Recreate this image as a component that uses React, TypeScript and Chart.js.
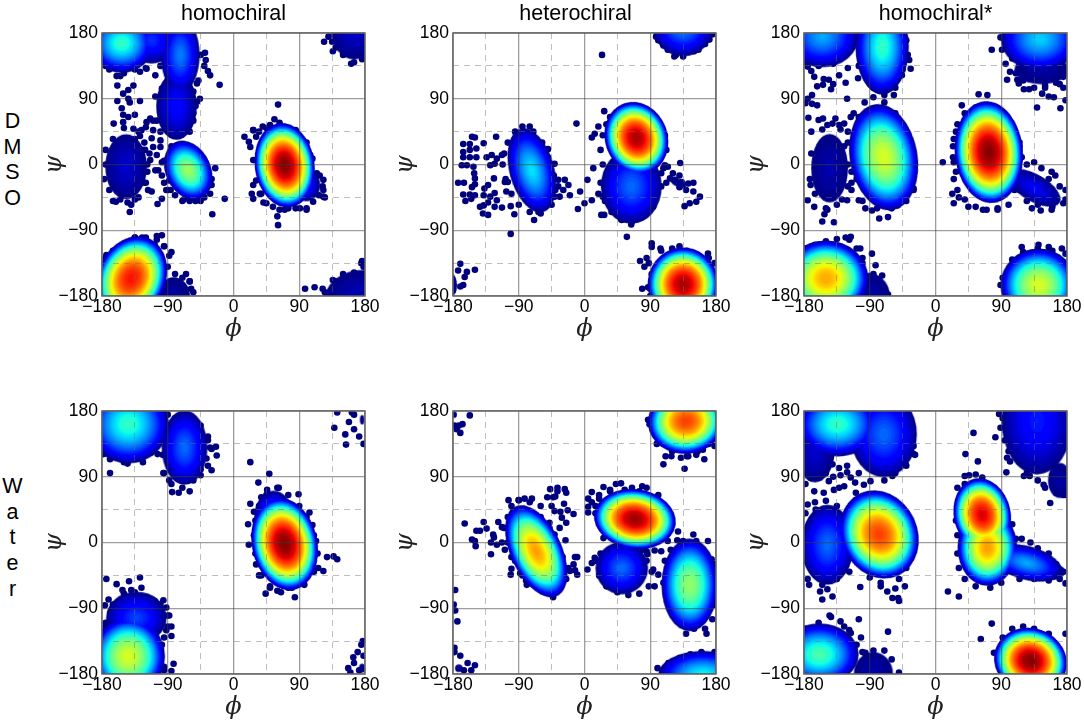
import { useEffect, useRef } from 'react';
import { Chart, registerables } from 'chart.js';

Chart.register(...registerables);

type Pair = [number, number];
// phi, psi, phi spread, psi spread, tilt, peak density (0-1)
type Cluster = [number, number, number, number, number, number];

// trailing spaces: the middle title sits a little left of its panel in the original
const panelTitles = ['homochiral', 'heterochiral   ', 'homochiral*', '', '', ''];
const rowLabels = ['DMSO', 'Water'];

const homoDmsoClusters: Cluster[] = [
  [-153, 166, 46, 42, 0, 0.42],
  [-112, 170, 34, 34, 0, 0.18],
  [-73, 150, 28, 55, 0, 0.26],
  [-78, 80, 30, 50, 0, 0.14],
  [-147, -3, 32, 50, 0, 0.08],
  [-62, -8, 32, 44, -25, 0.55],
  [70, -1, 42, 60, -8, 1],
  [100, -28, 20, 24, 0, 0.16],
  [-140, -156, 48, 62, 25, 0.9],
  [-82, -180, 28, 32, 0, 0.04],
  [165, 185, 36, 46, 0, 0.08],
  [178, -188, 62, 50, 0, 0.07],
];
const homoDmsoDots: Pair[] = [
  [124, 168], [136, 155], [161, 138], [176, 144], [-19, 109], [61, 82], [56, 62], [15, 38], [21, 31], [27, 47],
  [27, -28], [25, -40], [38, -40], [27, -47], [41, -52], [60, -71], [61, -83], [-12, -47], [-29, -68], [-104, -54],
  [-98, -47], [-142, -65], [-161, -51], [-85, -120], [-105, -98], [-98, -97], [-174, -124], [98, -170], [111, -168], [122, -170],
  [136, -158], [176, -132], [-170, 130], [-160, 121], [-155, 121], [-159, 108], [-137, 108], [-144, 102], [-151, 97], [-159, 87],
  [-144, 90], [-142, 85], [-128, 87], [-153, 77], [-151, 68], [-144, 65], [-135, 68], [-164, 56], [-151, 58], [-137, 49],
  [-126, 47], [-128, 39], [-114, 63], [-119, 58], [-110, 60], [-107, 93], [-98, 104], [-120, 51], [-110, 47], [-100, 33],
  [-112, 36], [-110, 24], [-100, 24], [-121, 20], [-105, 13], [-114, 6], [-98, 3], [-107, -8], [-103, -8], [-117, -35],
  [-112, -37], [-92, -35], [-86, -35], [-128, 127], [-119, 131], [-107, 122], [-39, 153], [-38, 143], [-35, 128], [-32, 122],
  [-50, 111], [-46, 90], [-50, 86], [-55, 70], [-130, 45], [-122, 30], [-115, 15], [-118, -10], [-120, -25], [-165, -50],
  [-140, -55], [-135, -48], [45, 50], [35, 45], [85, 47], [100, 30], [108, 8], [118, -15], [122, -30], [117, -42],
  [125, -45], [100, -60], [85, -60], [70, -62], [-68, -48], [-52, -50], [-40, -45], [-30, -20], [-88, -22], [-25, -5],
  [-135, -100], [-125, -100], [-108, -110], [-95, -112], [-60, -160], [-58, -170], [-70, -155], [-150, -115], [-165, -118],
];
const homoDmsoRim: Pair[] = [
  [27, 47], [40, 52], [50, 54], [63, 57], [75, 49], [86, 45], [98, 15], [105, 13], [114, -12], [123, -21],
  [123, -35], [123, -44], [109, -51], [100, -62], [91, -60], [75, -60], [63, -62], [54, -58], [45, -53], [36, -40],
  [31, -22], [27, 6], [23, 24], [31, 38], [-95, -25], [-90, -35], [-80, -42], [-70, -50], [-60, -50], [-45, -50],
  [-32, -40], [-30, -28], [-35, -10], [-45, 5], [-55, 15], [-70, 28], [-85, 25], [-95, 5], [-98, -15], [-175, 20],
  [-175, 0], [-177, -20], [-170, -35], [-155, -48], [-145, -52], [-130, -45], [-122, -25], [-118, 0], [-125, 20], [-135, 35],
  [-150, 50], [-165, 35], [-175, 135], [-150, 125], [-135, 130], [-120, 132], [-100, 135], [-45, 150], [-40, 135], [-48, 115],
  [-55, 100], [-52, 80], [-55, 60], [-60, 45], [-95, 90], [-100, 75], [-105, 60], [-100, 45], [-175, -128], [-160, -120],
  [-150, -110], [-135, -100], [-120, -100], [-105, -103], [-95, -112], [-88, -125], [-90, -140], [-80, -150], [-65, -150], [-60, -160],
  [-55, -175], [130, 175], [140, 160], [150, 150], [165, 140], [178, 150], [135, 168], [125, -175], [140, -160], [150, -150],
  [165, -148], [175, -135], [178, -140],
];

const heteroDmsoClusters: Cluster[] = [
  [-72, -8, 32, 62, -15, 0.36],
  [64, -30, 44, 54, 0, 0.24],
  [71, 36, 44, 52, -20, 0.97],
  [135, 190, 44, 44, 0, 0.28],
  [135, -164, 50, 52, -5, 0.97],
  [-182, -165, 12, 25, 0, 0.02],
  [128, -25, 20, 9, 30, 0.02],
];
const heteroDmsoDots: Pair[] = [
  [-170, -136], [-173, -145], [-164, -154], [-166, -165], [-150, -144], [-161, -147], [-170, -167], [-180, -172], [-154, 38], [-150, 37],
  [-166, 28], [-157, 28], [-138, 29], [-121, 38], [-166, 17], [-157, 20], [-148, 22], [-166, 10], [-157, 10], [-148, 10],
  [-134, 10], [-168, -1], [-161, -1], [-152, -3], [-129, -1], [-123, 1], [-113, 13], [-120, 8], [-127, 13], [-151, -12],
  [-150, -19], [-124, -19], [-173, -25], [-165, -25], [-150, -27], [-154, -31], [-137, -33], [-132, -28], [-109, -24], [-105, -24],
  [-166, -41], [-157, -41], [-150, -42], [-138, -42], [-129, -44], [-123, -39], [-107, -37], [-163, -50], [-155, -47], [-143, -58],
  [-138, -56], [-132, -52], [-120, -49], [-113, -59], [-123, -58], [-139, -67], [-132, -69], [-101, -57], [-96, -68], [-101, -95],
  [-69, -76], [-63, -65], [-41, 1], [-50, 21], [-36, -21], [-27, -21], [-22, -28], [-36, -30], [-29, -35], [-20, -42],
  [-41, -44], [-34, -44], [-6, -37], [4, -21], [12, -5], [0, -53], [-9, -61], [-11, 56], [24, 150], [58, -99],
  [27, 73], [10, 37], [14, 42], [19, 52], [10, -49], [19, -40], [25, -44], [27, -69], [23, -69], [37, -65],
  [51, -76], [64, -82], [80, -71], [87, -59], [94, -58], [114, -3], [110, -1], [121, -12], [131, 2], [130, -15],
  [117, -19], [124, -21], [133, -24], [142, -26], [149, -25], [130, -31], [139, -35], [149, -37], [158, -44], [153, -51],
  [144, -53], [137, -57], [112, -25], [105, -12], [101, 170], [108, 163], [114, 157], [123, 148], [156, 157], [171, 171],
  [92, -113], [104, -115], [92, -108], [76, -132], [130, -112], [158, -126], [169, -122], [79, -170], [87, -168], [82, -140], [85, -128],
];
const heteroDmsoRim: Pair[] = [
  [-85, 52], [-95, 45], [-105, 30], [-110, 15], [-112, 0], [-108, -20], [-100, -40], [-90, -55], [-75, -65], [-60, -67],
  [-45, -55], [-40, -35], [-42, -15], [-50, 10], [-58, 30], [-70, 45], [-75, 52], [30, 55], [25, 40], [22, 20],
  [25, 0], [22, -25], [28, -50], [40, -65], [50, -75], [65, -78], [80, -70], [95, -50], [105, -30], [108, -5],
  [112, 20], [110, 40], [100, 55], [90, 68], [75, 75], [60, 77], [45, 70], [35, 65], [88, -135], [92, -150],
  [90, -170], [90, -180], [105, -118], [120, -115], [140, -118], [155, -125], [170, -128], [178, -135], [98, 175], [110, 165],
  [125, 150], [135, 148], [150, 155], [165, 165], [175, 178],
];

const homoStarDmsoClusters: Cluster[] = [
  [-155, 175, 52, 44, 0, 0.3],
  [-73, 161, 38, 68, 0, 0.42],
  [-71, 10, 48, 76, -10, 0.62],
  [-145, -5, 30, 56, 0, 0.05],
  [73, 17, 48, 72, -5, 1],
  [135, -32, 44, 20, 30, 0.12],
  [143, 172, 56, 46, 0, 0.34],
  [145, 130, 46, 25, 0, 0.04],
  [-150, -156, 60, 54, 0, 0.74],
  [-88, -175, 30, 35, -35, 0.04],
  [141, -165, 54, 52, 0, 0.62],
];
const homoStarDmsoDots: Pair[] = [
  [77, 157], [89, 174], [94, 172], [102, 170], [91, 157], [96, 138], [102, 127], [98, 116], [112, 116], [114, 111],
  [121, 103], [128, 103], [146, 97], [155, 93], [162, 92], [175, 105], [178, 88], [171, 77], [139, 78], [59, 96],
  [71, 95], [36, 81], [10, 3], [25, 3], [25, -53], [23, -40], [132, -60], [144, -63], [159, -62], [175, -53],
  [159, -10], [164, -15], [-175, 134], [-166, 120], [-153, 117], [-146, 116], [-143, 103], [-132, 122], [-123, 112], [-106, 118],
  [-162, 107], [-154, 109], [-121, 90], [-175, 90], [-169, 95], [-178, 84], [-169, 83], [-162, 81], [-174, 64], [-154, 63],
  [-160, 61], [-137, 63], [-148, 54], [-141, 56], [-125, 56], [-132, 54], [-116, 65], [-112, 70], [-77, -74], [-65, -72],
  [-155, -78], [-139, -79], [-152, -68], [-175, -49], [-166, -58], [-96, -60], [-87, -63], [-64, -58], [-52, -56], [-105, -49],
  [-121, -49], [-171, -28], [-32, -8], [-30, -33], [-43, 157], [-36, 143], [-34, 131], [-46, 122], [-57, 95], [-82, -138],
  [-87, -122], [-103, -115], [-116, -99], [-123, -100], [-73, -152], [-178, -115], [89, -165], [118, -113], [141, -110], [155, -113], [173, -115],
  [-140, 110], [-170, 128], [-130, 48], [-120, 30], [-112, 18], [-110, 0], [-108, -20], [-115, -35], [-128, -48], [-148, -62],
  [40, 60], [28, 45], [24, 25], [25, -20], [32, -45], [45, -58], [65, -62], [85, -60], [103, 55], [115, 25],
  [110, 125], [120, 115], [135, 105], [150, 108], [165, 112], [175, 120], [105, 145],
];
const homoStarDmsoRim: Pair[] = [
  [30, 55], [40, 70], [55, 78], [70, 75], [85, 72], [95, 60], [105, 45], [115, 30], [118, 10], [112, -10],
  [108, -35], [100, -55], [85, -62], [70, -62], [55, -58], [40, -48], [30, -35], [28, -10], [24, 10], [25, 35],
  [-97, 85], [-85, 92], [-70, 85], [-55, 70], [-50, 55], [-45, 30], [-40, 10], [-32, -10], [-30, -35], [-40, -50],
  [-60, -60], [-80, -60], [-100, -50], [-115, -25], [-120, 0], [-125, 25], [-120, 45], [-105, 65], [-95, 125], [-85, 105],
  [-70, 95], [-55, 105], [-45, 130], [-38, 150], [-40, 170], [-178, 140], [-160, 135], [-140, 138], [-120, 132], [-105, 135],
  [-170, 45], [-170, 15], [-172, -20], [-165, -40], [-150, -60], [-135, -55], [-120, -30], [-115, -10], [-130, 20], [-145, 35],
  [-155, 48], [125, 0], [135, 3], [145, -5], [155, -20], [170, -30], [178, -35], [178, -48], [160, -58], [140, -55],
  [125, -50], [115, -35], [100, 170], [105, 150], [115, 135], [130, 120], [150, 105], [170, 110], [178, 125], [-100, -135],
  [-85, -150], [-75, -165], [-65, -178], [-178, -125], [-165, -110], [-150, -105], [-135, -102], [-118, -103], [-108, -115], [-100, -128],
  [92, -155], [105, -130], [120, -120], [140, -115], [160, -118], [178, -122],
];

const homoWaterClusters: Cluster[] = [
  [-144, 162, 58, 56, 0, 0.42],
  [-67, 130, 33, 54, 0, 0.24],
  [70, -2, 46, 66, -12, 1],
  [55, 35, 28, 38, 0, 0.24],
  [-144, -156, 52, 56, 0, 0.62],
  [-133, -103, 44, 38, 0, 0.2],
  [176, 168, 14, 30, 0, 0.01],
  [176, -172, 20, 28, 0, 0.01],
];
const homoWaterDots: Pair[] = [
  [142, 178], [138, 157], [154, 134], [153, 148], [23, 110], [49, 94], [34, 82], [-84, 69], [-169, 95], [-178, 121],
  [-169, 114], [-145, 108], [-124, 110], [-113, 123], [-104, 121], [-101, 143], [-24, 131], [-23, 119], [-30, 99], [21, -3],
  [20, 25], [23, 53], [104, 41], [89, 66], [108, 24], [113, 2], [128, -20], [137, -19], [142, -23], [123, -39],
  [116, -35], [97, -58], [84, -75], [44, -70], [31, -30], [-174, -50], [-160, -57], [-143, -53], [-128, -48], [-126, -62],
  [-171, -78], [-176, -86], [-96, -79], [-108, -80], [-92, -89], [-85, -115], [-82, -166], [-85, -176], [164, -157], [177, -135],
  [157, -172], [-88, -100], [-92, -120], [-85, -128], [-98, -140], [-95, -170], [30, 18], [28, 42], [38, 62], [46, 72],
  [62, 75], [30, 5], [35, -45], [50, -62], [60, -66], [75, -62], [-96, 95], [-88, 85], [-75, 68], [-60, 70],
  [-45, 92], [-35, 105], [-35, 140], [-30, 128], [-95, 152], [-152, -65], [-140, -65], [-168, -95], [-175, -110],
];
const homoWaterRim: Pair[] = [
  [30, 30], [35, 50], [45, 65], [60, 75], [75, 65], [90, 50], [100, 35], [110, 10], [115, -15], [110, -40],
  [95, -55], [80, -62], [65, -68], [50, -60], [38, -45], [30, -15], [28, 10], [-95, 140], [-97, 120], [-95, 95],
  [-85, 80], [-70, 75], [-55, 85], [-45, 100], [-37, 115], [-32, 130], [-35, 145], [-45, 160], [-60, 170], [-80, 170],
  [-92, 155], [-178, 130], [-165, 118], [-150, 110], [-130, 115], [-115, 128], [-95, 160], [-90, 175], [-98, 150], [-150, -70],
  [-135, -68], [-120, -75], [-100, -85], [-90, -100], [-90, -115], [-95, -130], [-105, -140], [-115, -155], [-105, -168], [-95, -175],
  [-165, -85], [-175, -115], [-178, -130], [162, 178], [158, 165], [165, 155], [172, 145], [178, 135], [165, 175], [170, -150],
  [175, -140], [165, -165], [160, -178], [172, -175], [178, -155],
];

const heteroWaterClusters: Cluster[] = [
  [-66, -12, 36, 70, -25, 0.75],
  [69, 32, 58, 42, 8, 0.98],
  [51, -35, 38, 38, 0, 0.24],
  [144, -58, 40, 66, 0, 0.54],
  [139, 166, 54, 46, -5, 0.85],
  [162, -181, 64, 34, 0, 0.38],
  [-178, 175, 15, 20, 0, 0.01],
  [-172, -172, 24, 24, 0, 0.01],
];
const heteroWaterDots: Pair[] = [
  [-157, 174], [-167, 162], [-170, 150], [-177, -65], [-179, -85], [-177, -93], [-174, -108], [-178, -144], [-150, -168], [-164, 26],
  [-138, 28], [-134, 19], [-148, 16], [-143, 16], [-118, 28], [-113, 21], [-125, 11], [-124, 7], [-154, 4], [-150, 2],
  [-149, -5], [-128, 0], [-120, -3], [-113, 0], [-128, -16], [-109, -10], [-104, 58], [-101, -44], [-100, -36], [-79, -58],
  [-47, 73], [-37, 75], [-37, 70], [-27, 73], [-25, 68], [-51, 62], [-43, 62], [-40, 63], [-28, 53], [-45, 50],
  [-41, 43], [-33, 42], [-23, 44], [-15, 39], [-31, 34], [-25, 27], [-48, 27], [-34, 20], [-26, 3], [-41, 11],
  [-13, -20], [-10, -20], [-15, -30], [-13, -38], [-10, -44], [-20, -39], [-43, -75], [-37, -62], [4, -37], [10, -28],
  [14, -21], [5, 41], [5, 49], [5, 60], [10, 69], [26, 76], [43, 80], [50, 81], [79, 77], [85, 75],
  [101, 65], [26, 6], [105, -12], [96, -11], [86, -16], [85, -12], [114, 2], [128, 15], [127, 3], [135, 2],
  [149, 11], [153, 2], [154, -7], [169, 2], [167, -21], [174, -23], [94, -37], [101, -44], [96, -60], [139, -125],
  [167, -125], [87, 168], [89, 162], [99, 135], [108, 107], [111, 118], [119, 118], [137, 101], [132, 116], [142, 118],
  [153, 120], [164, 114], [162, 127], [178, 132], [174, 148], [-90, 58], [-82, 60], [-72, 60], [-60, 50], [-98, 42],
  [-103, 20], [-100, -20], [-88, -42], [-80, -52], [-40, -50], [-35, -40], [-62, -62], [20, 60], [15, 50], [35, 72], [65, 75],
];
const heteroWaterRim: Pair[] = [
  [-100, 50], [-90, 58], [-75, 55], [-60, 35], [-48, 20], [-40, 0], [-30, -20], [-22, -35], [-25, -50], [-40, -62],
  [-55, -62], [-70, -58], [-85, -45], [-95, -25], [-105, 0], [-110, 20], [-105, 35], [10, 55], [15, 40], [25, 25],
  [35, 10], [50, 0], [70, -5], [90, 0], [105, 5], [115, 15], [118, 30], [108, 50], [95, 60], [75, 70],
  [55, 72], [35, 70], [20, 65], [15, -25], [22, -15], [20, -45], [30, -60], [45, -68], [60, -72], [75, -70],
  [88, -60], [92, -40], [85, -25], [80, -10], [110, -25], [118, -10], [135, 0], [150, -5], [165, -15], [178, -30],
  [178, -85], [175, -105], [165, -118], [150, -118], [135, -105], [125, -90], [115, -75], [108, -55], [93, 165], [98, 148],
  [108, 135], [120, 125], [140, 118], [155, 125], [170, 135], [100, -172], [115, -165], [130, -158], [145, -153], [160, -150],
  [178, -150], [-178, 160], [-172, 160], [-175, 155], [-178, -150], [-170, -155], [-160, -165], [-155, -175], [-165, -175],
];

const homoStarWaterClusters: Cluster[] = [
  [-134, 162, 58, 46, 0, 0.42],
  [-165, 125, 30, 48, 0, 0.08],
  [-71, 148, 48, 62, 0, 0.24],
  [-77, 11, 54, 64, -25, 0.85],
  [-148, -3, 38, 58, 0, 0.24],
  [64, 38, 40, 52, -12, 0.93],
  [71, -7, 42, 54, 0, 0.75],
  [125, -28, 52, 24, 15, 0.3],
  [155, -40, 27, 14, 0, 0.05],
  [139, 166, 52, 78, 0, 0.16],
  [170, 85, 20, 30, 0, 0.04],
  [-159, -153, 56, 44, 0, 0.45],
  [-85, -180, 32, 36, 0, 0.05],
  [130, -162, 52, 46, 20, 1],
];
const homoStarWaterDots: Pair[] = [
  [52, 150], [41, 121], [58, 111], [64, 89], [40, 91], [46, 92], [55, 93], [87, 176], [89, 157], [82, 144],
  [98, 116], [102, 111], [97, 96], [121, 91], [129, 91], [148, 79], [157, 54], [166, 68], [175, 65], [17, -67],
  [32, -74], [77, -111], [62, -132], [178, -56], [-103, -61], [-59, -76], [-51, -76], [-50, -80], [-66, -67], [-55, -63],
  [-42, -60], [-75, -60], [-155, -78], [-158, -67], [-141, -74], [-148, -64], [-173, -58], [-105, -105], [-102, -130], [-65, -122],
  [-143, -102], [-125, -115], [-116, -124], [-96, -151], [80, -151], [-132, 102], [-121, 105], [-141, 107], [-105, 95], [-132, 75],
  [-125, 77], [-109, 68], [-98, 79], [-116, 89], [-89, 84], [-166, 70], [-153, 68], [-146, 84], [-159, 89], [-139, 72],
  [-175, 52], [-164, 45], [-102, 121], [-128, 123], [-144, 116], [-121, 96], [-30, 121], [-34, 139], [-36, 157], [-41, 107],
  [-59, 91], [-140, 90], [-130, 92], [-110, 82], [-150, 95], [-170, 88], [-178, 80],
];
const homoStarWaterRim: Pair[] = [
  [30, 75], [40, 80], [55, 82], [75, 75], [88, 60], [95, 40], [105, 25], [110, 5], [98, -10], [105, -40],
  [90, -55], [75, -62], [55, -60], [40, -50], [32, -35], [30, -15], [30, 10], [28, 30], [32, 50], [118, 5],
  [130, 0], [140, -8], [155, -15], [165, -30], [175, -40], [170, -50], [155, -52], [135, -50], [115, -50], [-55, 50],
  [-48, 25], [-42, 0], [-38, -15], [-40, -35], [-50, -50], [-75, -55], [-90, -48], [-100, -30], [-120, -15], [-112, 45],
  [-80, 65], [-65, 62], [-178, 40], [-175, 10], [-178, -25], [-175, -50], [-155, -58], [-135, -50], [-118, -40], [-135, 50],
  [-150, 57], [-165, 55], [-45, 170], [-38, 150], [-30, 132], [-28, 120], [-40, 105], [-55, 95], [-70, 85], [92, 170],
  [95, 140], [100, 125], [115, 110], [125, 95], [140, 85], [150, 75], [165, 68], [178, 65], [178, 85], [-178, -118],
  [-160, -110], [-145, -100], [-130, -108], [-118, -120], [-108, -140], [-100, -150], [-95, -155], [-85, -148], [-70, -148], [-60, -160],
  [-50, -178], [88, -150], [92, -130], [105, -118], [120, -115], [135, -118], [155, -125], [178, -125],
];

const clustersByPanel = [
  homoDmsoClusters, heteroDmsoClusters, homoStarDmsoClusters,
  homoWaterClusters, heteroWaterClusters, homoStarWaterClusters,
];
const dotsByPanel = [
  [...homoDmsoDots, ...homoDmsoRim], [...heteroDmsoDots, ...heteroDmsoRim], [...homoStarDmsoDots, ...homoStarDmsoRim],
  [...homoWaterDots, ...homoWaterRim], [...heteroWaterDots, ...heteroWaterRim], [...homoStarWaterDots, ...homoStarWaterRim],
];

const panelLefts = [102, 453, 804, 102, 453, 804];
const panelTops = [33, 33, 33, 411, 411, 411];
const PANEL = 263;
const GUTTER = 62;
const BOTTOM_GUTTER = 50;
const LEVELS = 60;
const PX_PER_DEG = (PANEL / 360) * 0.97;

function jet(v: number): string {
  const ramp = (pts: number[][]) => {
    for (let i = 1; i < pts.length; i++) {
      if (v <= pts[i][0]) {
        const f = (v - pts[i - 1][0]) / (pts[i][0] - pts[i - 1][0]);
        return pts[i - 1][1] + f * (pts[i][1] - pts[i - 1][1]);
      }
    }
    return pts[pts.length - 1][1];
  };
  const r = ramp([[0, 0], [0.35, 0], [0.66, 1], [0.89, 1], [1, 0.5]]);
  const g = ramp([[0, 0], [0.125, 0], [0.375, 1], [0.64, 1], [0.91, 0], [1, 0]]);
  const b = ramp([[0, 0.5], [0.11, 1], [0.34, 1], [0.65, 0], [1, 0]]);
  return `rgb(${Math.round(r * 255)},${Math.round(g * 255)},${Math.round(b * 255)})`;
}

// one solid ellipse of a cluster at a given density contour
function contourSprite(c: Cluster, level: number, color: string): HTMLCanvasElement {
  const sharpness = 1.2 + c[5];
  const t = Math.pow(1 - level / c[5], 1 / sharpness);
  const rx = Math.max(c[2] * t * PX_PER_DEG, 0.5);
  const ry = Math.max(c[3] * t * PX_PER_DEG, 0.5);
  const sprite = document.createElement('canvas');
  sprite.width = Math.ceil(rx * 2) + 2;
  sprite.height = Math.ceil(ry * 2) + 2;
  const ctx = sprite.getContext('2d')!;
  ctx.fillStyle = color;
  ctx.beginPath();
  ctx.ellipse(sprite.width / 2, sprite.height / 2, rx, ry, 0, 0, Math.PI * 2);
  ctx.fill();
  return sprite;
}

function buildDatasets(clusters: Cluster[], dots: Pair[]) {
  const datasets: any[] = [];
  // chart.js paints the first dataset last, so the densest contour goes first
  for (let i = LEVELS - 1; i >= 0; i--) {
    const level = (i + 0.5) / LEVELS;
    const active = clusters.filter((c) => c[5] > level);
    if (active.length === 0) continue;
    const color = jet(level);
    datasets.push({
      data: active.map((c) => ({ x: c[0], y: c[1] })),
      pointStyle: active.map((c) => contourSprite(c, level, color)),
      pointRotation: active.map((c) => c[4]),
      pointRadius: 140,
      pointBorderWidth: 0,
      clip: 0,
    });
  }
  datasets.push({
    data: dots.map((d) => ({ x: d[0], y: d[1] })),
    pointRadius: 3.3,
    pointBorderWidth: 0,
    backgroundColor: '#00007f',
    clip: 0,
  });
  return datasets;
}

const framePlugin = {
  id: 'frame',
  afterDraw(chart: Chart) {
    const { ctx, chartArea: a } = chart;
    ctx.save();
    ctx.strokeStyle = '#666666';
    ctx.lineWidth = 1.5;
    ctx.strokeRect(a.left, a.top, a.right - a.left, a.bottom - a.top);
    ctx.restore();
  },
};

const tickFont = { family: '"Liberation Sans"', size: 17.5 };
const symbolFont = { family: '"DejaVu Serif"', size: 24, style: 'italic' as const };

function angleAxis(position: 'bottom' | 'left', symbol: string, fitted: (s: any) => void): any {
  return {
    type: 'linear',
    position,
    min: -180,
    max: 180,
    afterFit: fitted,
    ticks: {
      stepSize: 45,
      autoSkip: false,
      maxRotation: 0,
      color: '#000',
      font: tickFont,
      padding: position === 'bottom' ? 1 : 4,
      callback: (v: number) => (v % 90 === 0 ? String(v).replace('-', '\u2212') : ''),
    },
    grid: {
      z: 1,
      drawTicks: false,
      lineWidth: (c: any) => (c.tick && c.tick.value % 90 === 0 ? 1.3 : 1),
      color: (c: any) =>
        c.tick && c.tick.value % 90 === 0 ? 'rgba(60,60,60,0.5)' : 'rgba(110,110,110,0.45)',
    },
    border: {
      display: false,
      dash: (c: any) => (c.tick && c.tick.value % 90 === 0 ? [] : [6, 5]),
    },
    title: {
      display: true,
      text: symbol,
      color: '#222',
      font: symbolFont,
      padding: { top: 0, bottom: 2 },
    },
  };
}

function Panel({ index }: { index: number }): React.JSX.Element {
  const canvasRef = useRef<HTMLCanvasElement>(null);
  const title = panelTitles[index];

  useEffect(() => {
    if (!canvasRef.current) return;
    const chart = new Chart(canvasRef.current, {
      type: 'scatter',
      data: { datasets: buildDatasets(clustersByPanel[index], dotsByPanel[index]) },
      options: {
        animation: false,
        responsive: false,
        events: [],
        layout: {
          autoPadding: false,
          padding: { left: 0, right: GUTTER, bottom: 0, top: title ? 0 : 33 },
        },
        plugins: {
          legend: { display: false },
          tooltip: { enabled: false },
          title: {
            display: !!title,
            fullSize: false,
            text: title,
            color: '#000',
            font: { family: '"Liberation Sans"', size: 21.5, weight: 'normal', lineHeight: 1.2 },
            padding: { top: 1, bottom: 6.2 },
          },
        },
        scales: {
          x: angleAxis('bottom', '\u03d5', (s: any) => { s.height = BOTTOM_GUTTER; }),
          y: angleAxis('left', '\u03c8', (s: any) => { s.width = GUTTER; }),
        },
      },
      plugins: [framePlugin],
    } as any);
    return () => {
      chart.destroy();
    };
  }, [index, title]);

  return (
    <canvas
      ref={canvasRef}
      width={GUTTER + PANEL + GUTTER}
      height={33 + PANEL + BOTTOM_GUTTER}
      style={{
        position: 'absolute',
        left: panelLefts[index] - GUTTER,
        top: panelTops[index] - 33,
      }}
    />
  );
}

export default function App(): React.JSX.Element {
  return (
    <div style={{ position: 'absolute', left: 0, top: 0, width: 1084, height: 720, background: '#fff', overflow: 'hidden' }}>
      {rowLabels.map((label, row) => (
        <div
          key={label}
          style={{
            position: 'absolute',
            left: 0,
            width: 25,
            top: row === 0 ? 109 : 474,
            textAlign: 'center',
            font: '21.5px/25.7px "Liberation Sans"',
            color: '#000',
          }}
        >
          {label.split('').map((ch, i) => (
            <div key={i}>{ch}</div>
          ))}
        </div>
      ))}
      {panelLefts.map((_, i) => (
        <Panel key={i} index={i} />
      ))}
    </div>
  );
}
